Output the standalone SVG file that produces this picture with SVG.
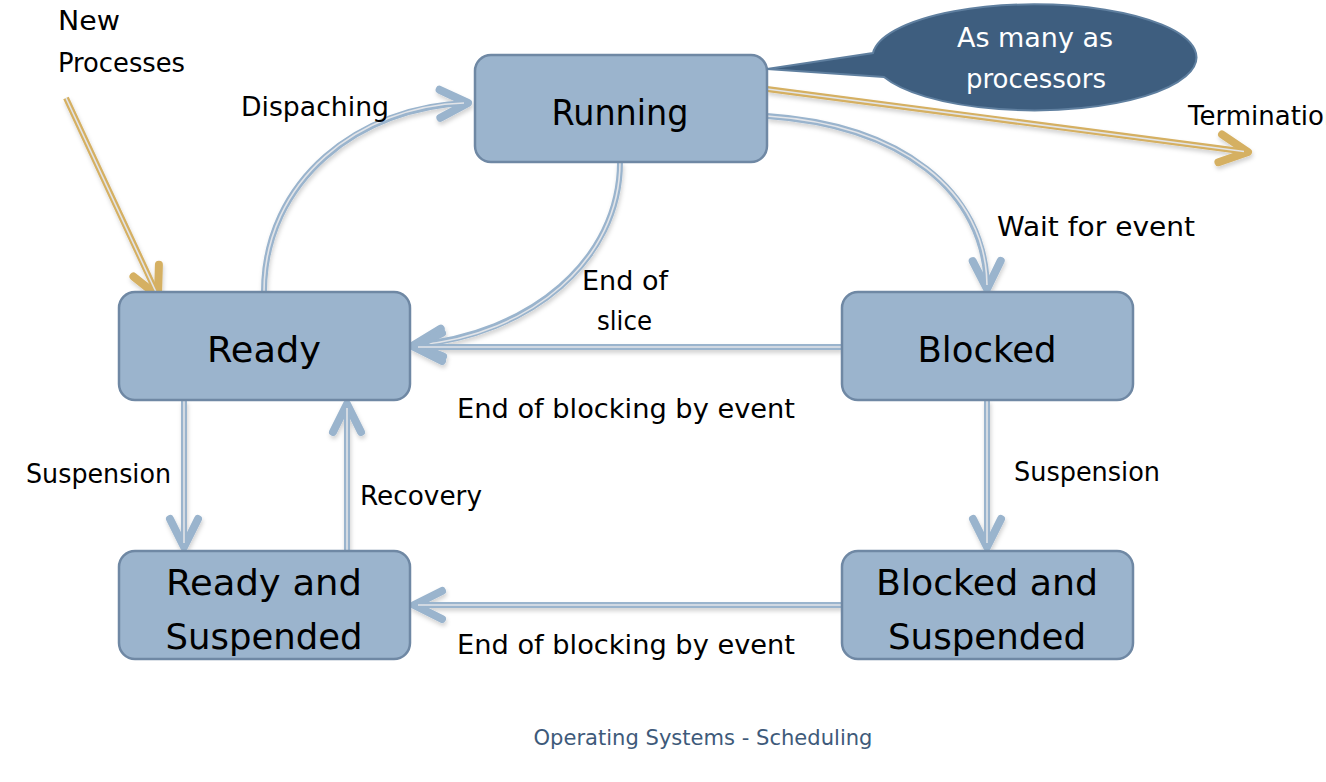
<svg xmlns="http://www.w3.org/2000/svg" width="1326" height="782" viewBox="0 0 1326 782">
<defs>
<style>
.box{fill:#9BB4CD;stroke:#6F88A4;stroke-width:2.5}
.lbl{font-family:"DejaVu Sans",sans-serif;font-size:26px;fill:#000}
.big{font-family:"DejaVu Sans",sans-serif;font-size:36px;fill:#000;text-anchor:middle}
.call{font-family:"DejaVu Sans",sans-serif;font-size:26px;fill:#fff;text-anchor:middle}
.foot{font-family:"DejaVu Sans",sans-serif;font-size:21px;fill:#3E5A7A;text-anchor:middle}
.bo{fill:none;stroke:#9AB4CD;stroke-width:6;stroke-linecap:butt}
.go{fill:none;stroke:#D5B062;stroke-width:6;stroke-linecap:butt}
.in{fill:none;stroke:#E2E4E8;stroke-width:1.6}
</style>
<marker id="ab" markerUnits="userSpaceOnUse" viewBox="-40 -25 50 50" markerWidth="50" markerHeight="50" refX="0" refY="0" orient="auto" overflow="visible">
<path d="M-28,-14 L0,0 L-28,14" fill="none" stroke="#9AB4CD" stroke-width="8" stroke-linecap="round" stroke-linejoin="round"/>
</marker>
<marker id="ag" markerUnits="userSpaceOnUse" viewBox="-40 -25 50 50" markerWidth="50" markerHeight="50" refX="0" refY="0" orient="auto" overflow="visible">
<path d="M-28,-14 L0,0 L-28,14" fill="none" stroke="#D5B062" stroke-width="8" stroke-linecap="round" stroke-linejoin="round"/>
</marker>
<filter id="sh" x="-10%" y="-10%" width="120%" height="130%">
<feDropShadow dx="1" dy="3" stdDeviation="2" flood-color="#000" flood-opacity="0.18"/>
</filter>
</defs>
<rect width="1326" height="782" fill="#fff"/>

<g id="connectors" filter="url(#sh)">
<!-- new processes -->
<path class="go" d="M66,98 L158,296" marker-end="url(#ag)"/>
<path class="in" d="M66,98 L156,292"/>
<!-- dispatching -->
<path class="bo" d="M264,292 C264,180 360,106 468,103" marker-end="url(#ab)"/>
<path class="in" d="M264,292 C264,180 360,106 464,103"/>
<!-- termination -->
<path class="go" d="M767,89 L1248,152" marker-end="url(#ag)"/>
<path class="in" d="M767,89 L1244,151.5"/>
<!-- wait for event -->
<path class="bo" d="M767,116 C900,125 986,190 987,289" marker-end="url(#ab)"/>
<path class="in" d="M767,116 C900,125 986,190 987,285"/>
<!-- end of slice -->
<path class="bo" d="M620,162 C620,260 530,335 414,345" marker-end="url(#ab)"/>
<path class="in" d="M620,162 C620,260 530,335 418,345"/>
<!-- end of blocking -->
<path class="bo" d="M842,347 L414,347" marker-end="url(#ab)"/>
<path class="in" d="M842,347 L418,347"/>
<!-- suspension left -->
<path class="bo" d="M184,400 L184,547" marker-end="url(#ab)"/>
<path class="in" d="M184,400 L184,543"/>
<!-- recovery -->
<path class="bo" d="M347,551 L347,404" marker-end="url(#ab)"/>
<path class="in" d="M347,551 L347,408"/>
<!-- suspension right -->
<path class="bo" d="M987,400 L987,547" marker-end="url(#ab)"/>
<path class="in" d="M987,400 L987,543"/>
<!-- end of blocking bottom -->
<path class="bo" d="M842,605 L414,605" marker-end="url(#ab)"/>
<path class="in" d="M842,605 L418,605"/>
</g>

<g id="running"><rect class="box" x="475" y="55" width="292" height="107" rx="16"/>
<text class="big" x="620" y="125" textLength="137" lengthAdjust="spacingAndGlyphs">Running</text></g>
<g id="ready"><rect class="box" x="119" y="292" width="291" height="108" rx="16"/>
<text class="big" x="264" y="362" textLength="114" lengthAdjust="spacingAndGlyphs">Ready</text></g>
<g id="blocked"><rect class="box" x="842" y="292" width="291" height="108" rx="16"/>
<text class="big" x="987" y="362" textLength="139" lengthAdjust="spacingAndGlyphs">Blocked</text></g>
<g id="ready-suspended"><rect class="box" x="119" y="551" width="291" height="108" rx="16"/>
<text class="big" x="264" y="595" textLength="196" lengthAdjust="spacingAndGlyphs">Ready and</text>
<text class="big" x="264" y="649" textLength="197" lengthAdjust="spacingAndGlyphs">Suspended</text></g>
<g id="blocked-suspended"><rect class="box" x="842" y="551" width="291" height="108" rx="16"/>
<text class="big" x="987" y="595" textLength="222" lengthAdjust="spacingAndGlyphs">Blocked and</text>
<text class="big" x="987" y="649" textLength="198" lengthAdjust="spacingAndGlyphs">Suspended</text></g>

<g id="callout">
<path d="M873,53 A162,53 0 1 1 884,77 L767,69 Z" fill="#3E5E7F" stroke="#5F7F9F" stroke-width="2"/>
<text class="call" x="1035" y="47" textLength="156" lengthAdjust="spacingAndGlyphs">As many as</text>
<text class="call" x="1036" y="88" textLength="140" lengthAdjust="spacingAndGlyphs">processors</text>
</g>

<g id="labels">
<text class="lbl" x="58" y="30" textLength="62" lengthAdjust="spacingAndGlyphs">New</text>
<text class="lbl" x="58" y="72" textLength="127" lengthAdjust="spacingAndGlyphs">Processes</text>
<text class="lbl" x="241" y="116" textLength="148" lengthAdjust="spacingAndGlyphs">Dispaching</text>
<text class="lbl" x="1188" y="125">Termination</text>
<text class="lbl" x="997" y="236" textLength="198" lengthAdjust="spacingAndGlyphs">Wait for event</text>
<text class="lbl" x="582" y="290" textLength="86" lengthAdjust="spacingAndGlyphs">End of</text>
<text class="lbl" x="597" y="330" textLength="55" lengthAdjust="spacingAndGlyphs">slice</text>
<text class="lbl" x="457" y="418" textLength="338" lengthAdjust="spacingAndGlyphs">End of blocking by event</text>
<text class="lbl" x="26" y="483" textLength="145" lengthAdjust="spacingAndGlyphs">Suspension</text>
<text class="lbl" x="360" y="505" textLength="122" lengthAdjust="spacingAndGlyphs">Recovery</text>
<text class="lbl" x="1014" y="481" textLength="146" lengthAdjust="spacingAndGlyphs">Suspension</text>
<text class="lbl" x="457" y="654" textLength="338" lengthAdjust="spacingAndGlyphs">End of blocking by event</text>
<text class="foot" x="703" y="745" textLength="339" lengthAdjust="spacingAndGlyphs">Operating Systems - Scheduling</text>
</g>
</svg>
